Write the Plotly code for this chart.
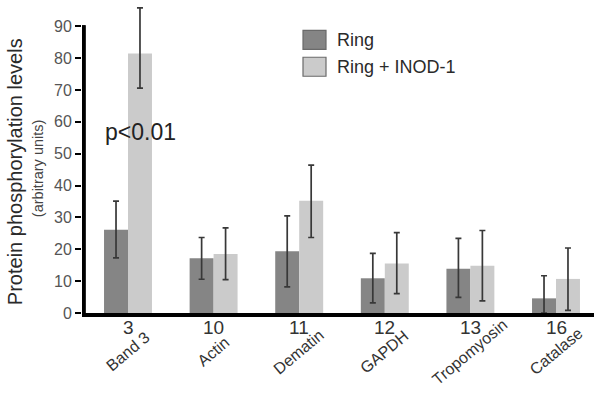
import plotly.graph_objects as go

# ---- data ----
numbers = ["3", "10", "11", "12", "13", "16"]
proteins = ["Band 3", "Actin", "Dematin", "GAPDH", "Tropomyosin", "Catalase"]
ring = [26.1, 17.2, 19.4, 10.9, 13.9, 4.6]
ring_err_plus = [9.0, 6.5, 11.1, 7.8, 9.5, 7.1]
ring_err_minus = [8.8, 6.6, 11.2, 7.7, 9.0, 4.6]
inod = [81.5, 18.5, 35.2, 15.5, 14.8, 10.7]
inod_err_plus = [14.3, 8.2, 11.2, 9.7, 11.1, 9.7]
inod_err_minus = [10.9, 8.0, 11.5, 9.4, 11.0, 9.9]
series_names = ["Ring", "Ring + INOD-1"]
y_ticks = [0, 10, 20, 30, 40, 50, 60, 70, 80, 90]
y_axis_max = 90
y_view_max = 97

# ---- layout geometry (pixels) ----
W, H = 601, 400
PL, PR, PB = 82, 594, 313           # plot area edges
AXW = 3.6                           # axis line width
Y90 = 26                            # pixel row of the axis top (value 90)
FIRST_C, STEP = 128, 85.6           # first category centre / spacing in px
SCALE = (PB - Y90) / y_axis_max
PT = PB - y_view_max * SCALE
L, R, T, B = PL, W - PR, PT, H - PB
PW, PH = PR - PL, PB - PT
X0 = -(FIRST_C - PL) / STEP
X1 = X0 + PW / STEP
FONT = "Liberation Sans, Arial, sans-serif"
C_RING = "#858585"
C_INOD = "#cbcbcb"


def px(xp):
    return (xp - PL) / PW


def py(yp):
    return (PB - yp) / PH


xs = list(range(len(numbers)))

fig = go.Figure()
fig.add_trace(go.Bar(
    x=xs, y=ring, name=series_names[0], marker=dict(color=C_RING, line=dict(width=0)),
    error_y=dict(type="data", symmetric=False, array=ring_err_plus, arrayminus=ring_err_minus,
                 color="#383838", thickness=1.7, width=3),
    showlegend=False,
))
fig.add_trace(go.Bar(
    x=xs, y=inod, name=series_names[1], marker=dict(color=C_INOD, line=dict(width=0)),
    error_y=dict(type="data", symmetric=False, array=inod_err_plus, arrayminus=inod_err_minus,
                 color="#383838", thickness=1.7, width=3),
    showlegend=False,
))

ann = []
for i, (n, p) in enumerate(zip(numbers, proteins)):
    ann.append(dict(x=i, y=py(328), xref="x", yref="paper", text=n, showarrow=False,
                    font=dict(family=FONT, size=19, color="#333333"),
                    xanchor="center", yanchor="middle"))
    ann.append(dict(x=i, y=py(352), xref="x", yref="paper", text=p, showarrow=False,
                    xshift=0, textangle=-40,
                    font=dict(family=FONT, size=16, color="#333333"),
                    xanchor="center", yanchor="middle"))

# y-axis titles
ann.append(dict(x=px(15), y=py(172), xref="paper", yref="paper",
                text="Protein phosphorylation levels", showarrow=False, textangle=-90,
                font=dict(family=FONT, size=20, color="#2a2a2a"),
                xanchor="center", yanchor="middle"))
ann.append(dict(x=px(38), y=py(168), xref="paper", yref="paper",
                text="(arbitrary units)", showarrow=False, textangle=-90,
                font=dict(family=FONT, size=14.5, color="#444444"),
                xanchor="center", yanchor="middle"))

# p value
ann.append(dict(x=px(140), y=py(132), xref="paper", yref="paper", text="p<0.01",
                showarrow=False, font=dict(family=FONT, size=23, color="#222222"),
                xanchor="center", yanchor="middle"))

# legend (manual)
shapes = []
for k, (nm, col, y0, y1) in enumerate([(series_names[0], C_RING, 30, 49),
                                        (series_names[1], C_INOD, 57, 76)]):
    shapes.append(dict(type="rect", xref="paper", yref="paper",
                       x0=px(303), x1=px(326), y0=py(y1), y1=py(y0),
                       fillcolor=col, line=dict(color="#6a6a6a", width=1.2)))
    ann.append(dict(x=px(335), y=py((y0 + y1) / 2), xref="paper", yref="paper",
                    text=nm, showarrow=False, font=dict(family=FONT, size=18, color="#2a2a2a"),
                    xanchor="left", yanchor="middle"))

# y axis line, ending at the top tick (value 90): drawn as a shape ...
shapes.append(dict(type="rect", xref="paper", yref="paper", layer="above",
                   x0=0, x1=px(PL + AXW),
                   y0=0, y1=py(Y90 - 1),
                   fillcolor="black", line=dict(width=0)))
# ... and as a headless annotation arrow at the same place
ann.append(dict(x=px(PL + AXW / 2), y=py(Y90 - 1), xref="paper", yref="paper",
                text="", showarrow=True, arrowhead=0, arrowwidth=AXW,
                arrowcolor="black", ax=0, ay=(PB + AXW) - (Y90 - 1),
                standoff=0, startstandoff=0))

fig.update_layout(
    width=W, height=H,
    margin=dict(l=L, r=R, t=T, b=B, pad=0),
    paper_bgcolor="white", plot_bgcolor="white",
    barmode="group", bargap=0.44, bargroupgap=0,
    annotations=ann, shapes=shapes,
    xaxis=dict(range=[X0, X1], showgrid=False, zeroline=False,
               showticklabels=False, ticks="", showline=True, linecolor="black",
               linewidth=AXW, fixedrange=True),
    yaxis=dict(range=[0, y_view_max], tickvals=y_ticks, showgrid=False, zeroline=False,
               showline=False,
               ticks="outside", ticklen=6, tickwidth=2, tickcolor="black",
               tickfont=dict(family=FONT, size=16, color="#555555"), fixedrange=True),
    font=dict(family=FONT),
)

fig.write_html("out.html", config={"displayModeBar": False},
               post_script="document.body.style.margin='0px';")
